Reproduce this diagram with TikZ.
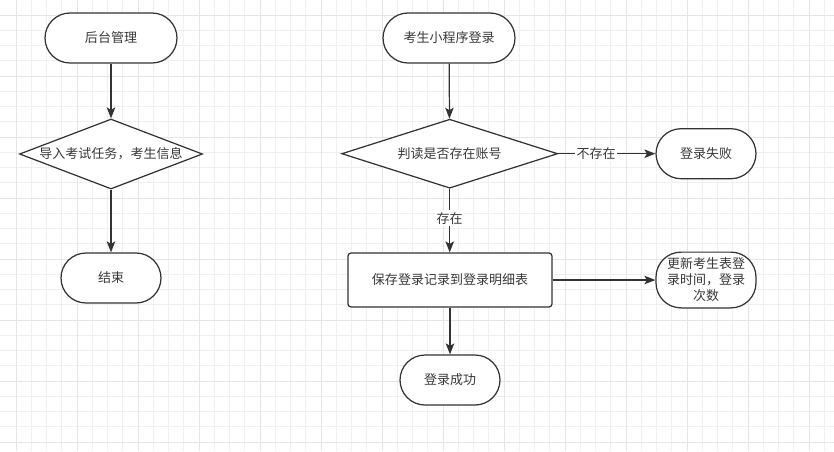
\documentclass[tikz,border=0pt]{standalone}
\usepackage{fontspec}
\setmainfont{Noto Sans CJK SC}
\usetikzlibrary{shapes,arrows.meta,positioning}

\begin{document}
\begin{tikzpicture}[
    x=0.02cm, y=-0.02cm,
    every node/.style={font=\fontsize{7.4pt}{9.1pt}\selectfont, text=black!78},
    terminal/.style={draw=black!80, line width=0.7pt, rectangle, rounded corners=0.5cm, minimum width=2cm, minimum height=1cm, fill=white},
    process/.style={draw=black!80, line width=0.7pt, rectangle, rounded corners=0.06cm, minimum width=4.08cm, minimum height=1.08cm, fill=white},
    decision/.style={draw=black!80, line width=0.7pt, diamond, inner sep=0pt, fill=white},
    edge/.style={-{Stealth[length=0.22cm, width=0.17cm, inset=0.05cm]}, line width=0.7pt, draw=black!80},
    edgelabel/.style={fill=white, inner sep=1pt},
    gridminor/.style={draw=black!6, line width=0.5pt},
    gridmajor/.style={draw=black!10, line width=0.5pt},
]

\useasboundingbox[fill=white] (0,0) rectangle (834,451);

% Grid
\foreach \gx in {16,31.25,...,834} \draw[gridminor] (\gx,0) -- (\gx,451);
\foreach \gy in {15,30.25,...,451} \draw[gridminor] (0,\gy) -- (834,\gy);
\foreach \gx in {16,77,...,834} \draw[gridmajor] (\gx,0) -- (\gx,451);
\foreach \gy in {15,76,...,451} \draw[gridmajor] (0,\gy) -- (834,\gy);

% Admin side
\node[terminal, minimum width=2.64cm] (admin) at (111, 38) {后台管理};
\node[decision, minimum width=3.66cm, minimum height=1.4cm, aspect=2.6] (import) at (111, 154) {导入考试任务，考生信息};
\node[terminal] (finish) at (111, 278) {结束};

% Mini program side
\node[terminal, minimum width=2.64cm] (login) at (449, 38) {考生小程序登录};
\node[decision, minimum width=4.32cm, minimum height=1.38cm, aspect=3.1] (check) at (449.7, 153.7) {判读是否存在账号};
\node[terminal] (fail) at (706, 153.7) {登录失败};
\node[process] (save) at (450, 280) {保存登录记录到登录明细表};
\node[terminal, align=center] (update) at (706, 280) {更新考生表登\\录时间，登录\\次数};
\node[terminal] (success) at (450, 380) {登录成功};

\draw[edge] (admin) -- (import);
\draw[edge] (import) -- (finish);

\draw[edge] (login) -- (check);
\draw[edge] (check) -- node[edgelabel, pos=0.39] {不存在} (fail);
\draw[edge] (check.south) -- node[edgelabel, pos=0.46] {存在} (check.south |- save.north);
\draw[edge] (save) -- (update);
\draw[edge] (save.south -| success) -- (success);

\end{tikzpicture}
\end{document}
